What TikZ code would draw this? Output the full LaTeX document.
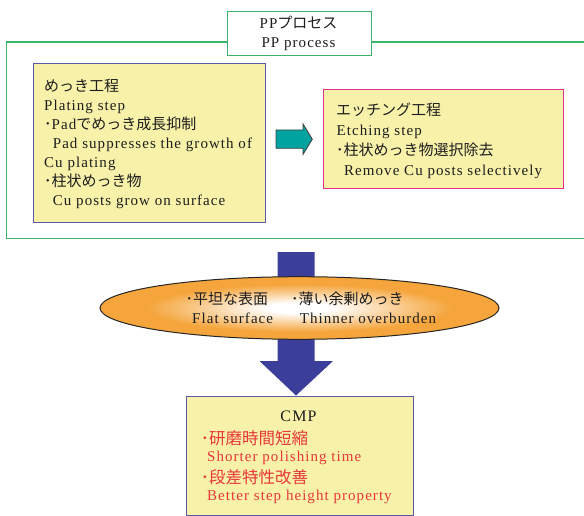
\documentclass[tikz,border=0pt]{standalone}
\usepackage{fontspec}
\setmainfont{Liberation Serif}[LetterSpace=7]
\newfontfamily\jp{Noto Sans CJK JP}
\usetikzlibrary{shapes.geometric}
\definecolor{pgreen}{HTML}{3CB46A}
\definecolor{pyellow}{HTML}{F7F1A9}
\definecolor{pslate}{HTML}{5A5AA8}
\definecolor{ppink}{HTML}{E2338C}
\definecolor{pteal}{HTML}{00A3A0}
\definecolor{pnavy}{HTML}{3B3F99}
\definecolor{ellor}{HTML}{F5A53C}
\definecolor{pred}{HTML}{E8383A}
\definecolor{ptext}{HTML}{1E1E1E}
\pgfdeclareradialshading{ellshade}{\pgfpoint{0bp}{0bp}}{color(0bp)=(white);color(4bp)=(white);color(19bp)=(ellor);color(25bp)=(ellor);color(50bp)=(ellor)}
\tikzset{
  boxy/.style={draw=#1, fill=pyellow, line width=1.1pt, inner sep=0pt, anchor=north west},
  txt/.style={anchor=base west, inner sep=0pt, text=ptext, font=\fontsize{15}{18}\selectfont},
  rtxt/.style={txt, text=pred},
}
\begin{document}
\begin{tikzpicture}[x=1pt,y=-1pt]
\useasboundingbox (0,0) rectangle (584,516);
% outer PP frame
\coordinate (gtr) at (590,42);
\coordinate (gtl) at (6.7,42);
\coordinate (gbl) at (6.7,238.7);
\coordinate (gbr) at (590,238.7);
\draw[pgreen, line width=1.2pt] (gtr) -- (gtl) -- (gbl) -- (gbr);
\node[draw=pgreen, fill=white, line width=1.2pt, inner sep=0pt, anchor=north west,
      minimum width=144pt, minimum height=44.3pt] (pp) at (226.5,10.7) {};
\node[anchor=base, inner sep=0pt, text=ptext, font=\fontsize{15}{18}\selectfont] (pp1) at (298.5,28.5) {PP{\jp プロセス}};
\node[anchor=base, inner sep=0pt, text=ptext, font=\fontsize{15}{18}\selectfont] (pp2) at (298.5,47.5) {PP process};
% left box
\node[boxy=pslate, minimum width=232pt, minimum height=159pt] (plate) at (33,63) {};
\node[txt] (a1) at (44,92) {\jp めっき工程};
\node[txt] (a2) at (44,110.9) {Plating step};
\node[txt] (a3) at (44,129.9) {{\jp ･}Pad{\jp でめっき成長抑制}};
\node[txt] (a4) at (52.7,148.8) {Pad suppresses the growth of};
\node[txt] (a5) at (44,167.8) {Cu plating};
\node[txt] (a6) at (44,186.8) {\jp ･柱状めっき物};
\node[txt] (a7) at (52.7,205.7) {Cu posts grow on surface};
% right box
\node[boxy=ppink, minimum width=240pt, minimum height=99pt] (etch) at (323,89) {};
\node[txt] (b1) at (336,116) {\jp エッチング工程};
\node[txt] (b2) at (336.5,135.5) {Etching step};
\node[txt] (b3) at (336,155.5) {\jp ･柱状めっき物選択除去};
\node[txt] (b4) at (344,175.5) {Remove Cu posts selectively};
% teal arrow
\draw[fill=pteal, draw=black!75, line width=0.9pt, line join=miter]
  (276,130) -- (303,130) -- (303,124) -- (312.3,139.2) -- (303,154.3) -- (303,148.3) -- (276,148.3) -- cycle;
% blue arrow
\fill[pnavy] (277.5,252) -- (314.5,252) -- (314.5,361) -- (333,361) -- (296,395.5)
  -- (259.5,361) -- (277.5,361) -- cycle;
% ellipse
\node[ellipse, draw=black!85, line width=1pt, inner sep=0pt, minimum width=399pt,
      minimum height=62.6pt, shading=ellshade] (ell) at (299.5,308) {};
\node[txt] (c1) at (185.4,304) {\jp ･平坦な表面};
\node[txt] (c2) at (192,323) {Flat surface};
\node[txt] (c3) at (291,304) {\jp ･薄い余剰めっき};
\node[txt] (c4) at (299.6,323) {Thinner overburden};
% CMP box
\node[boxy=pslate, minimum width=227pt, minimum height=119pt] (cmp) at (185.5,395.5) {};
\node[anchor=base, inner sep=0pt, text=ptext, font=\fontsize{16}{18}\selectfont] (d0) at (298.5,421) {CMP};
\node[rtxt, font=\fontsize{16.5}{18}\selectfont] (d1) at (200.7,444.5) {\jp ･研磨時間短縮};
\node[rtxt] (d2) at (207,461) {Shorter polishing time};
\node[rtxt, font=\fontsize{16.5}{18}\selectfont] (d3) at (200.7,483) {\jp ･段差特性改善};
\node[rtxt] (d4) at (207,500) {Better step height property};
\end{tikzpicture}
\end{document}
